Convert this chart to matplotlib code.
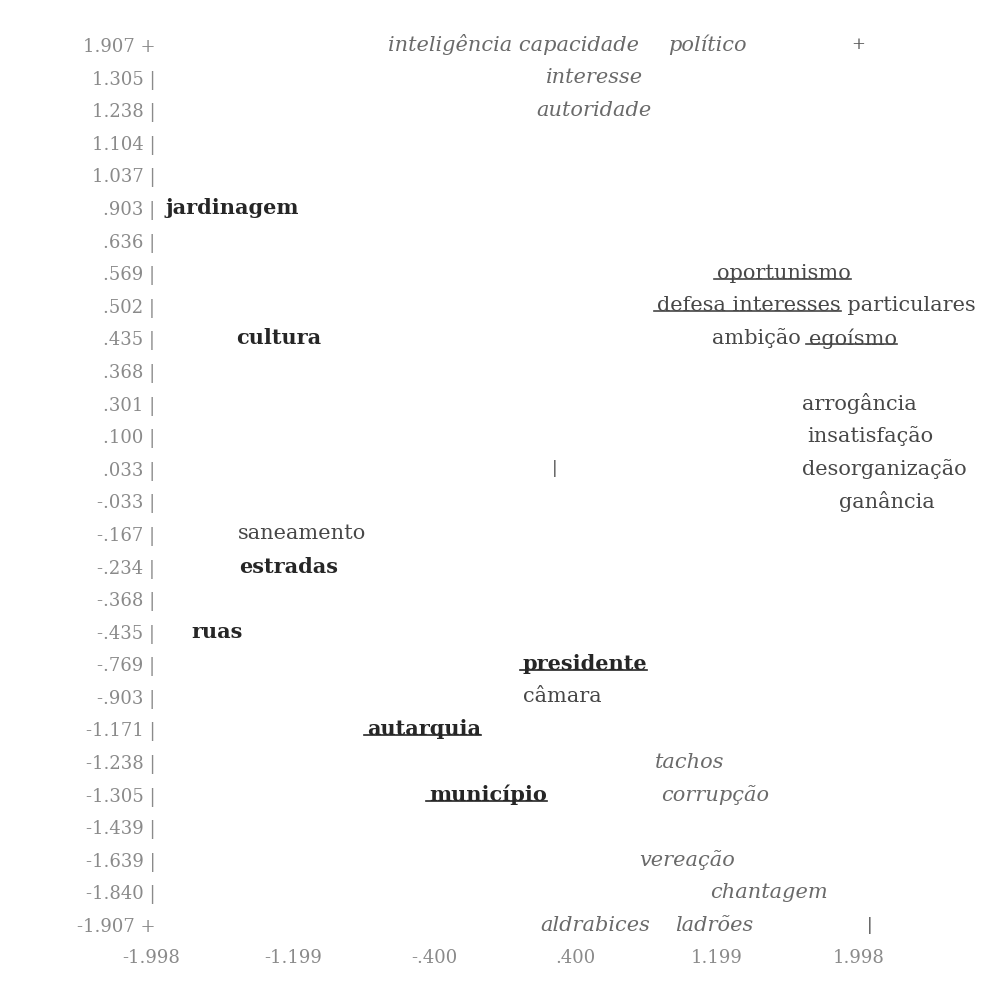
import matplotlib.pyplot as plt
from matplotlib.lines import Line2D

plt.rcParams['font.family'] = 'DejaVu Serif'

# row labels of the vertical axis (one row per level, evenly spaced)
y_labels = ['1.907', '1.305', '1.238', '1.104', '1.037', '.903', '.636', '.569',
            '.502', '.435', '.368', '.301', '.100', '.033', '-.033', '-.167',
            '-.234', '-.368', '-.435', '-.769', '-.903', '-1.171', '-1.238',
            '-1.305', '-1.439', '-1.639', '-1.840', '-1.907']

x_ticks = [-1.998, -1.199, -0.400, 0.400, 1.199, 1.998]
x_tick_labels = ['-1.998', '-1.199', '-.400', '.400', '1.199', '1.998']

# words and their coordinates (x value, row label)
words = ['inteligência capacidade', 'político', 'interesse', 'autoridade',
         'jardinagem', 'oportunismo', 'defesa interesses particulares',
         'cultura', 'ambição', 'egoísmo', 'arrogância', 'insatisfação',
         'desorganização', 'ganância', 'saneamento', 'estradas', 'ruas',
         'presidente', 'câmara', 'autarquia', 'tachos', 'município',
         'corrupção', 'vereação', 'chantagem', 'aldrabices', 'ladrões']
word_x = [-0.66, 0.92, 0.23, 0.18, -1.92, 1.20, 0.86, -1.52, 1.17, 1.72,
          1.68, 1.71, 1.68, 1.89, -1.51, -1.50, -1.77, 0.10, 0.10, -0.78,
          0.85, -0.43, 0.88, 0.76, 1.16, 0.20, 0.96]
word_row = ['1.907', '1.907', '1.305', '1.238', '.903', '.569', '.502',
            '.435', '.435', '.435', '.301', '.100', '.033', '-.033', '-.167',
            '-.234', '-.435', '-.769', '-.903', '-1.171', '-1.238', '-1.305',
            '-1.305', '-1.639', '-1.840', '-1.907', '-1.907']

# small axis marks of the original text plot
mark_text = ['+', '|', '|']
mark_x = [1.998, 0.28, 2.06]
mark_row = ['1.907', '.033', '-1.907']

# styling
italic_words = {'inteligência capacidade', 'político', 'interesse', 'autoridade',
                'tachos', 'corrupção', 'vereação', 'chantagem', 'aldrabices', 'ladrões'}
bold_words = {'jardinagem', 'cultura', 'estradas', 'ruas', 'presidente',
              'autarquia', 'município'}
# word -> number of underlined characters
underlined = {'oportunismo': 11, 'defesa interesses particulares': 17,
              'egoísmo': 7, 'presidente': 10, 'autarquia': 9, 'município': 9}

fig = plt.figure(figsize=(9.93, 9.89), dpi=100)
ax = fig.add_axes([140 / 993, 46 / 989, 853 / 993, 943 / 989])
ax.set_xlim(-2.063, 2.759)
ax.set_ylim(27.55, -1.38)
for s in ax.spines.values():
    s.set_visible(False)

tick_text = []
for i, lab in enumerate(y_labels):
    end = '+' if i in (0, len(y_labels) - 1) else '|'
    tick_text.append(lab + ' ' + end)
ax.set_yticks(range(len(y_labels)), tick_text)
ax.set_xticks(x_ticks, x_tick_labels)
ax.tick_params(axis='y', length=0, pad=-11, labelsize=13, labelcolor='#8a8a8a')
ax.tick_params(axis='x', length=0, pad=4, labelsize=13, labelcolor='#8a8a8a')

texts = []
for w, x, r in zip(words, word_x, word_row):
    y = y_labels.index(r)
    if w in italic_words:
        t = ax.text(x, y, w, fontsize=15, style='italic', color='#6a6a6a', va='center')
    elif w in bold_words:
        t = ax.text(x, y, w, fontsize=15, weight='bold', color='#262626', va='center')
    else:
        t = ax.text(x, y, w, fontsize=15, color='#474747', va='center')
    texts.append(t)

for m, x, r in zip(mark_text, mark_x, mark_row):
    ax.text(x, y_labels.index(r), m, fontsize=12, color='#555555', ha='center', va='center')

# underline words using their drawn extents
fig.canvas.draw()
renderer = fig.canvas.get_renderer()
inv = fig.transFigure.inverted()
for t in texts:
    w = t.get_text()
    if w not in underlined:
        continue
    bb = t.get_window_extent(renderer)
    n = underlined[w]
    if n < len(w):
        tmp = ax.text(0, 0, w[:n], fontproperties=t.get_fontproperties())
        width = tmp.get_window_extent(renderer).width
        tmp.remove()
    else:
        width = bb.width
    yline = bb.y0 + 0.2 * bb.height
    (x0, y0), (x1, y1) = inv.transform([(bb.x0 - 3, yline), (bb.x0 + width, yline)])
    fig.add_artist(Line2D([x0, x1], [y0, y1], color=t.get_color(), lw=1.2))

fig.savefig('out.png', dpi=100)
